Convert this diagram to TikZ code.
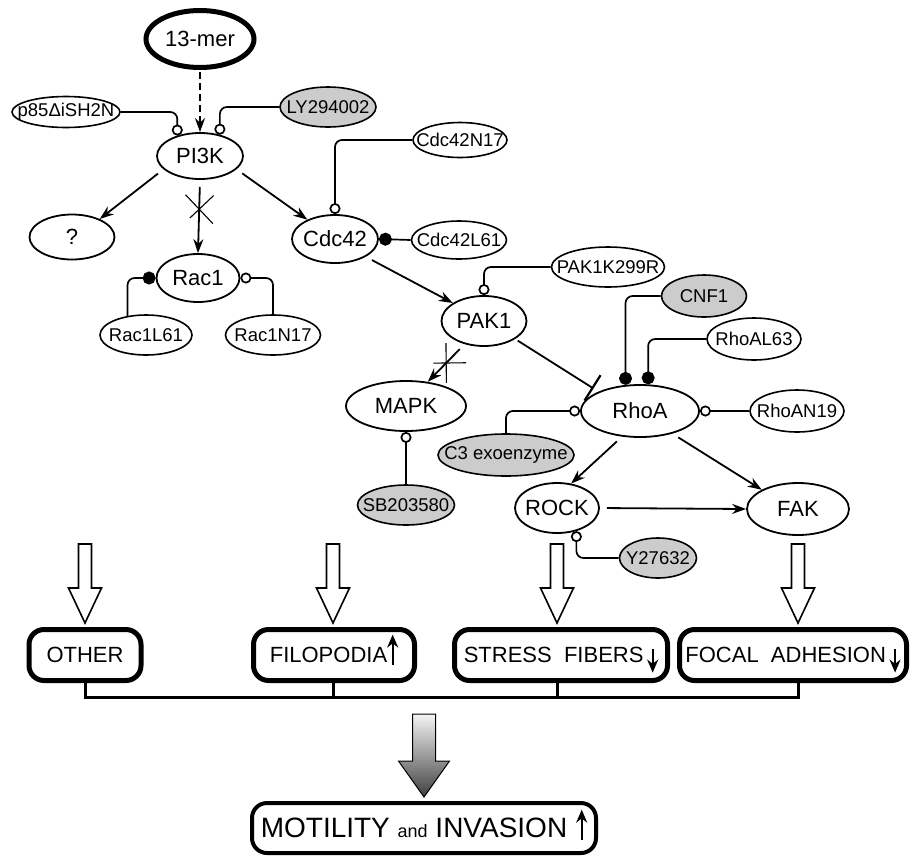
\documentclass[tikz,border=0pt]{standalone}
\usepackage{fontspec}
\setmainfont{Liberation Sans}
\usetikzlibrary{arrows.meta, shapes.geometric, shapes.misc, calc}

\newcommand{\bigf}{\fontsize{22}{25}\selectfont}
\newcommand{\smallf}{\fontsize{18.5}{21}\selectfont}
\newcommand{\uparr}{\smash{\tikz[baseline=0pt]\draw[line width=2pt,-{Stealth[length=13pt,width=11pt]}] (0pt,-2pt) -- (0pt,28pt);}}
\newcommand{\downarr}{\smash{\tikz[baseline=0pt]\draw[line width=2pt,-{Stealth[length=13pt,width=11pt]}] (0pt,14pt) -- (0pt,-10pt);}}

\begin{document}
\begin{tikzpicture}[x=1pt, y=-1pt]
   \tikzstyle{prot}=[ellipse,draw,line width=1.8pt,inner sep=0pt,font=\bigf,execute at begin node={\hbox to 0pt\bgroup\hss},execute at end node={\hss\egroup}]
   \tikzstyle{mut}=[prot,line width=1.6pt,font=\smallf]
   \tikzstyle{drug}=[mut,fill=gray!40]
   \tikzstyle{proc}=[rectangle,rounded corners=15pt,draw,line width=5pt,inner sep=0pt,font=\bigf]
   \tikzstyle{act}=[line width=1.8pt,-{Stealth[length=14pt,width=10pt]},shorten <=7pt]
   \tikzstyle{inhopen}=[line width=1.7pt,-{Circle[open,length=11pt]},rounded corners=7pt]
   \tikzstyle{inhfull}=[line width=1.7pt,-{Circle[length=13pt]},rounded corners=7pt]
   \tikzstyle{stopx}=[cross out,draw,line width=1.1pt,minimum size=27pt,inner sep=0pt,sloped]
   \tikzstyle{hollow}=[line width=1.6pt,fill=white,line join=miter]
   \tikzstyle{busline}=[line width=3pt,line join=miter]

   \useasboundingbox (0,0) rectangle (912,857);

   % signalling nodes
   \node[prot,line width=5pt,minimum width=108pt,minimum height=57pt] (mer) at (200,39) {13-mer};
   \node[prot,minimum width=86pt,minimum height=46pt] (pik) at (200,156) {PI3K};
   \node[mut,minimum width=108pt,minimum height=31pt] (p85) at (66,112) {p85ΔiSH2N};
   \node[drug,minimum width=96pt,minimum height=40pt] (ly) at (328,107) {LY294002};
   \node[prot,minimum width=85pt,minimum height=45pt] (que) at (72,237) {?};
   \node[prot,minimum width=83pt,minimum height=48pt] (rac) at (198,278) {Rac1};
   \node[mut,minimum width=92pt,minimum height=40pt] (racL) at (146,335) {Rac1L61};
   \node[mut,minimum width=95pt,minimum height=40pt] (racN) at (273,335) {Rac1N17};
   \node[prot,minimum width=86pt,minimum height=48pt] (cdc) at (335,239) {Cdc42};
   \node[mut,minimum width=94pt,minimum height=35pt] (cdcN) at (460,140) {Cdc42N17};
   \node[mut,minimum width=95pt,minimum height=38pt] (cdcL) at (459,240) {Cdc42L61};
   \node[prot,minimum width=85pt,minimum height=50pt] (pak) at (484,321) {PAK1};
   \node[mut,minimum width=113pt,minimum height=40pt] (pakK) at (608,267) {PAK1K299R};
   \node[drug,minimum width=85pt,minimum height=42pt] (cnf) at (704,296) {CNF1};
   \node[mut,minimum width=94pt,minimum height=42pt] (rhoL) at (754,339) {RhoAL63};
   \node[prot,minimum width=118pt,minimum height=52pt] (rhoa) at (640,411) {RhoA};
   \node[mut,minimum width=94pt,minimum height=42pt] (rhoN) at (797,411) {RhoAN19};
   \node[drug,minimum width=136pt,minimum height=42pt] (c3) at (506,455) {C3 exoenzyme};
   \node[prot,minimum width=120pt,minimum height=50pt] (mapk) at (406,406) {MAPK};
   \node[drug,minimum width=97pt,minimum height=40pt] (sb) at (406,505) {SB203580};
   \node[prot,minimum width=84pt,minimum height=50pt] (rock) at (557,508) {ROCK};
   \node[prot,minimum width=102pt,minimum height=52pt] (fak) at (798,509) {FAK};
   \node[drug,minimum width=77pt,minimum height=40pt] (y27) at (658,558) {Y27632};

   % outcome boxes
   \node[proc,minimum width=112pt,minimum height=51pt] (other) at (85,655) {OTHER};
   \node[proc,minimum width=161pt,minimum height=51pt] (filo) at (334,655) {FILOPODIA\uparr};
   \node[proc,minimum width=213pt,minimum height=51pt] (stress) at (561,655) {STRESS~ FIBERS\,\downarr};
   \node[proc,minimum width=227pt,minimum height=51pt] (focal) at (793,655) {FOCAL~ ADHESION\,\downarr};
   \node[proc,line width=4pt,minimum width=344pt,minimum height=50pt] (motil) at (424,828) {\fontsize{28}{30}\selectfont MOTILITY {\fontsize{18}{18}\selectfont and} INVASION\hspace{9pt}\uparr};

   % pathway
   \draw[line width=1.8pt,dash pattern=on 7pt off 4pt,-{Stealth[length=14pt,width=10pt]},shorten <=2pt] (mer.south) -- (pik.north);
   \draw[inhopen] (p85.east) -| (pik.138);
   \draw[inhopen] (ly.west) -| (pik.47);
   \draw[act] (pik.200) -- (que.33);
   \draw[act] (pik.south) -- node[stopx,pos=0.4] {} (rac.north);
   \draw[act] (pik.340) -- (cdc.145);
   \draw[inhfull] (racL.134) |- (rac.west);
   \draw[inhopen] (racN.north) |- (rac.east);
   \draw[inhopen] (cdcN.west) -| (cdc.north);
   \draw[inhfull] (cdcL.west) -- (cdc.east);
   \draw[act] (cdc.330) -- (pak.150);
   \draw[inhopen] (pakK.west) -| (pak.north);
   \coordinate (tee) at ($(rhoa.155)!7pt!(pak.330)$);
   \draw[line width=1.8pt,shorten <=3pt] (pak.330) -- (tee);
   \draw[line width=2.2pt] ($(tee)!15pt!90:(pak.330)$) -- ($(tee)!15pt!-90:(pak.330)$);
   \draw[act] (pak.230) -- node[stopx] {} (mapk.48);
   \draw[inhopen] (sb.north) -- (mapk.south);
   \draw[inhfull] (cnf.west) -| (rhoa.119);
   \draw[inhfull] (rhoL.west) -| (rhoa.73);
   \draw[inhopen] (rhoN.west) -- (rhoa.east);
   \draw[inhopen] (c3.north) |- (rhoa.west);
   \draw[act] (rhoa.235) -- (rock.60);
   \draw[act] (rhoa.325) -- (fak.152);
   \draw[act] (rock.east) -- (fak.west);
   \draw[inhopen] (y27.west) -| (rock.310);

   % hollow arrows into the boxes
   \coordinate (t1) at (other.north);
   \coordinate (t2) at (filo.north -| 333,0);
   \coordinate (t3) at (stress.north -| rock);
   \coordinate (t4) at (focal.north -| fak);
   \draw[hollow] ($(t1)+(0,-4)$) -- ++(16.5,-35) -- ++(-10,0) -- ++(0,-44) -- ++(-13,0) -- ++(0,44) -- ++(-10,0) -- cycle;
   \draw[hollow] ($(t2)+(0,-4)$) -- ++(16.5,-35) -- ++(-10,0) -- ++(0,-44) -- ++(-13,0) -- ++(0,44) -- ++(-10,0) -- cycle;
   \draw[hollow] ($(t3)+(0,-4)$) -- ++(16.5,-35) -- ++(-10,0) -- ++(0,-44) -- ++(-13,0) -- ++(0,44) -- ++(-10,0) -- cycle;
   \draw[hollow] ($(t4)+(0,-4)$) -- ++(16.5,-35) -- ++(-10,0) -- ++(0,-44) -- ++(-13,0) -- ++(0,44) -- ++(-10,0) -- cycle;

   % bus and final arrow
   \coordinate (bus) at (0,697);
   \draw[busline] (other.south) -- (other.south |- bus) -- (fak |- bus) -- (fak |- focal.south);
   \draw[busline] (t2 |- filo.south) -- (t2 |- bus);
   \draw[busline] (rock |- stress.south) -- (rock |- bus);
   \shade[top color=gray!8,bottom color=black!75,draw=black,line width=1pt,line join=miter] ($(motil.north)+(0,-4)$) -- ++(25.5,-36) -- ++(-14,0) -- ++(0,-47) -- ++(-23,0) -- ++(0,47) -- ++(-14,0) -- cycle;
\end{tikzpicture}
\end{document}
